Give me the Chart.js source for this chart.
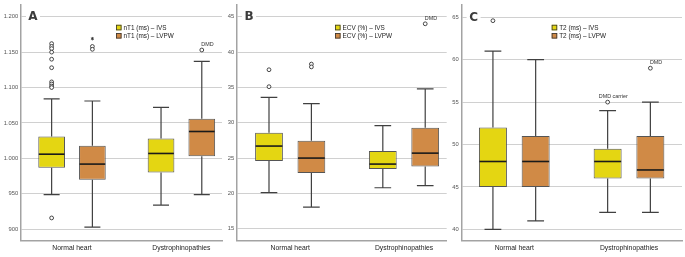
<!DOCTYPE html>
<html><head><meta charset="utf-8">
<script src="https://cdn.jsdelivr.net/npm/chart.js@4.4.1/dist/chart.umd.min.js"></script>
<style>
html,body{margin:0;padding:0;background:#fff;}
#wrap{position:relative;width:685px;height:257px;overflow:hidden;background:#fff;}
canvas{position:absolute;top:0;}
</style>
</head><body>
<div id="wrap">
<canvas id="cA" width="224" height="257" style="left:0px"></canvas>
<canvas id="cB" width="225" height="257" style="left:224px"></canvas>
<canvas id="cC" width="236" height="257" style="left:449px"></canvas>
</div>
<script>
const categories = ['Normal heart', 'Dystrophinopathies'];

// five-number summaries per category: [lower whisker, Q1, median, Q3, upper whisker]
const nT1_IVS = [[949, 987, 1006, 1031, 1084], [934, 980, 1007, 1028, 1072]];
const nT1_LVPW = [[903, 970, 992, 1018, 1081], [949, 1003, 1038, 1056, 1137]];
const nT1_IVS_outliers = [[1162, 1158, 1155, 1150, 1140, 1128, 1108, 1105, 1102, 1100, 916], []];
const nT1_LVPW_outliers = [[1158, 1154], [1153]];
const nT1_LVPW_extremes = [[1169], []];
const nT1_LVPW_notes = [['', ''], ['DMD']];
const nT1_ticks = [900, 950, 1000, 1050, 1100, 1150, 1200];

const ECV_IVS = [[20.1, 24.6, 26.7, 28.6, 33.6], [20.8, 23.45, 24.15, 26.0, 29.6]];
const ECV_LVPW = [[18.05, 22.9, 25.0, 27.45, 32.7], [21.1, 23.8, 25.7, 29.3, 34.8]];
const ECV_IVS_outliers = [[37.5, 35.1], []];
const ECV_LVPW_outliers = [[38.3, 37.9], [44.0]];
const ECV_LVPW_notes = [['', ''], ['DMD']];
const ECV_ticks = [15, 20, 25, 30, 35, 40, 45];

const T2_IVS = [[40, 45, 48, 52, 61], [42, 46, 48, 49.5, 54]];
const T2_LVPW = [[41, 45, 48, 51, 60], [42, 46, 47, 51, 55]];
const T2_IVS_outliers = [[64.6], [55]];
const T2_IVS_notes = [[''], ['DMD carrier']];
const T2_LVPW_outliers = [[], [59]];
const T2_LVPW_notes = [[], ['DMD']];
const T2_ticks = [40, 45, 50, 55, 60, 65];

const IVS_COLOR = '#e4d612';
const LVPW_COLOR = '#d08a46';
const FONT = '"Liberation Sans", Arial, sans-serif';

function fmtThousands(v) {
  if (v >= 1000) return Math.floor(v / 1000) + '.' + String(v % 1000).padStart(3, '0');
  return String(v);
}

const boxExtras = {
  id: 'boxExtras',
  afterDatasetsDraw(chart) {
    const ctx = chart.ctx;
    const ys = chart.scales.y;
    const P = v => ys.getPixelForValue(v);
    chart.data.datasets.forEach((ds, di) => {
      const meta = chart.getDatasetMeta(di);
      meta.data.forEach((bar, i) => {
        const s = ds.stats[i];
        const cx = bar.x, w = bar.width, cap = w * 0.6;
        ctx.save();
        ctx.strokeStyle = '#404040';
        ctx.lineWidth = 1.2;
        ctx.beginPath();
        ctx.moveTo(cx, P(s[3])); ctx.lineTo(cx, P(s[4]));
        ctx.moveTo(cx, P(s[1])); ctx.lineTo(cx, P(s[0]));
        ctx.moveTo(cx - cap / 2, P(s[4])); ctx.lineTo(cx + cap / 2, P(s[4]));
        ctx.moveTo(cx - cap / 2, P(s[0])); ctx.lineTo(cx + cap / 2, P(s[0]));
        ctx.stroke();
        // median
        ctx.strokeStyle = '#1a1a1a';
        ctx.lineWidth = 1.6;
        ctx.beginPath();
        ctx.moveTo(cx - w / 2 + 0.5, P(s[2])); ctx.lineTo(cx + w / 2 - 0.5, P(s[2]));
        ctx.stroke();
        // outliers
        const outs = (ds.outliers && ds.outliers[i]) || [];
        const notes = (ds.notes && ds.notes[i]) || [];
        outs.forEach((v, k) => {
          const py = P(v);
          ctx.beginPath();
          ctx.arc(cx, py, 1.9, 0, Math.PI * 2);
          ctx.fillStyle = '#fff';
          ctx.fill();
          ctx.strokeStyle = '#333';
          ctx.lineWidth = 0.9;
          ctx.stroke();
          if (notes[k]) {
            ctx.fillStyle = '#333';
            ctx.font = '5.4px ' + FONT;
            ctx.textAlign = 'center';
            ctx.textBaseline = 'bottom';
            ctx.fillText(notes[k], cx + 5.7, py - 2.6);
          }
        });
        const ext = (ds.extremes && ds.extremes[i]) || [];
        ext.forEach(v => {
          const py = P(v);
          ctx.strokeStyle = '#333';
          ctx.lineWidth = 0.9;
          ctx.beginPath();
          for (let a = 0; a < 3; a++) {
            const ang = Math.PI / 2 + a * Math.PI / 3;
            ctx.moveTo(cx - 1.7 * Math.cos(ang), py - 1.7 * Math.sin(ang));
            ctx.lineTo(cx + 1.7 * Math.cos(ang), py + 1.7 * Math.sin(ang));
          }
          ctx.stroke();
        });
        ctx.restore();
      });
    });
  }
};

function panelDecor(letter, legendDx) {
  return {
    id: 'panelDecor',
    afterDraw(chart) {
      const ctx = chart.ctx, a = chart.chartArea, ys = chart.scales.y;
      const ticks = ys.ticks;
      const topY = ys.getPixelForValue(ticks[ticks.length - 1].value);
      const lx = a.left + 12.3;
      ctx.save();
      ctx.fillStyle = '#fff';
      ctx.fillRect(lx - 7, topY - 6, 14, 12);
      ctx.fillStyle = '#3c3c3c';
      ctx.font = 'bold 12px "DejaVu Sans", sans-serif';
      ctx.textAlign = 'center';
      ctx.textBaseline = 'middle';
      ctx.fillText(letter, lx, topY + 0.5);
      // legend
      const x0 = a.left + legendDx;
      chart.data.datasets.forEach((ds, i) => {
        const top = 24.8 + i * 8.2;
        ctx.fillStyle = ds.backgroundColor;
        ctx.fillRect(x0, top, 5.5, 5.5);
        ctx.strokeStyle = '#333';
        ctx.lineWidth = 0.8;
        ctx.strokeRect(x0 + 0.4, top + 0.4, 4.7, 4.7);
        ctx.fillStyle = '#222';
        ctx.font = '6.4px ' + FONT;
        ctx.textAlign = 'left';
        ctx.textBaseline = 'middle';
        ctx.fillText(ds.label, x0 + 7.5, top + 3);
      });
      ctx.restore();
    }
  };
}

function makeChart(id, c) {
  const mk = (label, stats, outs, exts, notes, color) => ({
    label, stats, outliers: outs, extremes: exts, notes,
    backgroundColor: color, borderColor: '#555', borderWidth: 1, borderSkipped: false,
    data: categories.map((cat, i) => ({ x: i + 1, y: [stats[i][1], stats[i][3]] }))
  });
  return new Chart(document.getElementById(id), {
    type: 'bar',
    data: {
      datasets: [
        mk(c.labels[0], c.ivs, c.ivsOut, c.ivsExt, c.ivsNotes, IVS_COLOR),
        mk(c.labels[1], c.lvpw, c.lvpwOut, c.lvpwExt, c.lvpwNotes, LVPW_COLOR)
      ]
    },
    options: {
      responsive: false, animation: false, devicePixelRatio: 1,
      categoryPercentage: 0.745, barPercentage: 0.655,
      layout: { padding: { top: 5, right: c.padRight, bottom: 0, left: 0 } },
      plugins: { legend: { display: false }, tooltip: { enabled: false } },
      scales: {
        x: {
          type: 'linear', min: c.xMin, max: c.xMax, offset: false,
          grid: { display: false, offset: false, drawTicks: false },
          border: { display: true, color: '#a3a3a3', width: 1.5 },
          afterBuildTicks: s => { s.ticks = categories.map((cat, i) => ({ value: i + 1 })); },
          ticks: { callback: v => categories[v - 1], font: { family: FONT, size: 6.8 }, color: '#222', padding: 3.5, maxRotation: 0, autoSkip: false },
          afterFit: s => { s.height = 16.3; s.paddingLeft = 0; s.paddingRight = 0; }
        },
        y: {
          min: c.yMin, max: c.yMax,
          afterBuildTicks: s => { s.ticks = c.ticks.map(v => ({ value: v })); },
          ticks: { callback: c.fmt, font: { family: FONT, size: 5.8 }, color: '#555', padding: 2.5 },
          grid: { color: '#d0d0d0', lineWidth: 1, drawTicks: false },
          border: { display: true, color: '#a3a3a3', width: 1.5 },
          afterFit: s => { s.width = c.yWidth; s.paddingTop = 0; s.paddingBottom = 0; }
        }
      }
    },
    plugins: [boxExtras, panelDecor(c.letter, c.legendDx)]
  });
}

makeChart('cA', {
  letter: 'A', legendDx: 95.3,
  labels: ['nT1 (ms) \u2013 IVS', 'nT1 (ms) \u2013 LVPW'],
  ivs: nT1_IVS, lvpw: nT1_LVPW,
  ivsOut: nT1_IVS_outliers, lvpwOut: nT1_LVPW_outliers,
  ivsExt: null, lvpwExt: nT1_LVPW_extremes,
  ivsNotes: null, lvpwNotes: nT1_LVPW_notes,
  ticks: nT1_ticks, fmt: fmtThousands,
  yMin: 883.9, yMax: 1216.5, xMin: 0.531, xMax: 2.371,
  yWidth: 20.7, padRight: 2
});
makeChart('cB', {
  letter: 'B', legendDx: 98.3,
  labels: ['ECV (%) \u2013 IVS', 'ECV (%) \u2013 LVPW'],
  ivs: ECV_IVS, lvpw: ECV_LVPW,
  ivsOut: ECV_IVS_outliers, lvpwOut: ECV_LVPW_outliers,
  ivsExt: null, lvpwExt: null,
  ivsNotes: null, lvpwNotes: ECV_LVPW_notes,
  ticks: ECV_ticks, fmt: v => String(v),
  yMin: 13.31, yMax: 46.66, xMin: 0.530, xMax: 2.375,
  yWidth: 12.7, padRight: 2.3
});
makeChart('cC', {
  letter: 'C', legendDx: 90.4,
  labels: ['T2 (ms) \u2013 IVS', 'T2 (ms) \u2013 LVPW'],
  ivs: T2_IVS, lvpw: T2_LVPW,
  ivsOut: T2_IVS_outliers, lvpwOut: T2_LVPW_outliers,
  ivsExt: null, lvpwExt: null,
  ivsNotes: T2_IVS_notes, lvpwNotes: T2_LVPW_notes,
  ticks: T2_ticks, fmt: v => String(v),
  yMin: 38.66, yMax: 66.45, xMin: 0.538, xMax: 2.462,
  yWidth: 12.3, padRight: 3
});
</script>
</body></html>
